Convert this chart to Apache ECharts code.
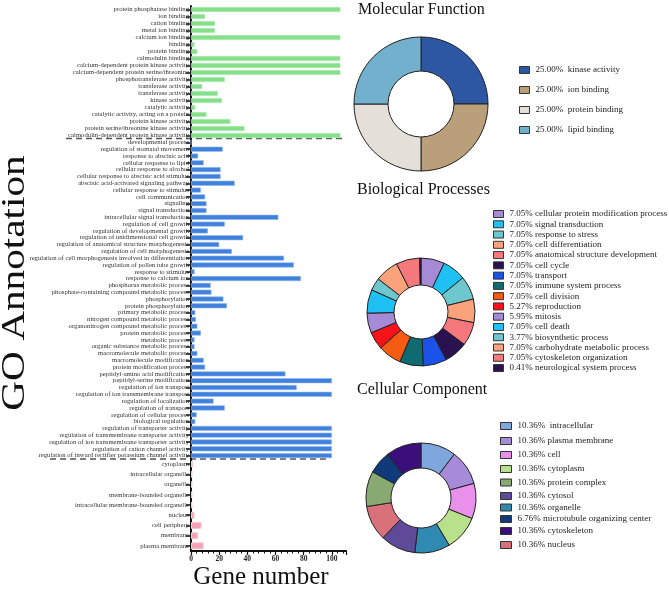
<!DOCTYPE html>
<html><head><meta charset="utf-8">
<script src="https://cdn.jsdelivr.net/npm/echarts@6/dist/echarts.min.js"></script>
<style>html,body{margin:0;padding:0;background:#fff}#c{width:669px;height:589px}</style>
</head><body><div id="c"></div>
<script>
// ---- Bar chart data (top to bottom) ----
const mfCategories = ['protein phosphatase binding','ion binding','cation binding','metal ion binding','calcium ion binding','binding','protein binding','calmodulin binding','calcium-dependent protein kinase activity','calcium-dependent protein serine/threonine','phosphotransferase activity','transferase activity','transferase activity','kinase activity','catalytic activity','catalytic activity, acting on a protein','protein kinase activity','protein serine/threonine kinase activity','calmodulin-dependent protein kinase activity'];
const mfValues = [106,10,17,17,106,2.5,4.5,106,106,106,24,8,19,22,3,11,28,38,106];

const bpCategories = ['developmental process','regulation of stomatal movement','response to abscisic acid','cellular response to lipid','cellular response to alcohol','cellular response to abscisic acid stimulus','abscisic acid-activated signaling pathway','cellular response to stimulus','cell communication','signaling','signal transduction','intracellular signal transduction','regulation of cell growth','regulation of developmental growth','regulation of unidimensional cell growth','regulation of anatomical structure morphogenesis','regulation of cell morphogenesis','regulation of cell morphogenesis involved in differentiation','regulation of pollen tube growth','response to stimulus','response to calcium ion','phosphorus metabolic process','phosphate-containing compound metabolic process','phosphorylation','protein phosphorylation','primary metabolic process','nitrogen compound metabolic process','organonitrogen compound metabolic process','protein metabolic process','metabolic process','organic substance metabolic process','macromolecule metabolic process','macromolecule modification','protein modification process','peptidyl-amino acid modification','peptidyl-serine modification','regulation of ion transport','regulation of ion transmembrane transport','regulation of localization','regulation of transport','regulation of cellular process','biological regulation','regulation of transporter activity','regulation of transmembrane transporter activity','regulation of ion transmembrane transporter activity','regulation of cation channel activity','regulation of inward rectifier potassium channel activity'];
const bpValues = [0,22.5,5,9,21,21,31,7,10,11,11,62,24,12,37,20,29,66,73,2.5,78,14,14.5,23,25.5,3,3.5,4.5,7,2.5,2.5,4.5,9,10,67,100,75,100,16,24,4,3,100,100,100,100,100];

const ccCategories = ['cytoplasm','intracellular organelle','organelle','membrane-bounded organelle','intracellular membrane-bounded organelle','nucleus','cell periphery','membrane','plasma membrane'];
const ccValues = [1.5,1,1,1,1,2.5,7.5,5,9];

const xTicks = [0,20,40,60,80,100];

// ---- Donut data ----
const mfNames = ['kinase activity','ion binding','protein binding','lipid binding'];
const mfPct = [25.00,25.00,25.00,25.00];

const bpNames = ['cellular protein modification process','signal transduction','response to stress','cell differentiation','anatomical structure development','cell cycle','transport','immune system process','cell division','reproduction','mitosis','cell death','biosynthetic process','carbohydrate metabolic process','cytoskeleton organization','neurological system process'];
const bpPct = [7.05,7.05,7.05,7.05,7.05,7.05,7.05,7.05,7.05,5.27,5.95,7.05,3.77,7.05,7.05,0.41];

// ring order (clockwise from top)
const ccNames = ['intracellular','plasma membrane','cell','cytoplasm','organelle','cytosol','nucleus','protein complex','microtubule organizing center','cytoskeleton'];
const ccPct = [10.36,10.36,10.36,10.36,10.36,10.36,10.36,10.36,6.76,10.36];
// legend order
const ccLegendOrder = ['intracellular','plasma membrane','cell','cytoplasm','protein complex','cytosol','organelle','microtubule organizing center','cytoskeleton','nucleus'];

// ---- styles / layout ----
const mfColors = ['#2d56a3','#b9a07a','#e4dfd8','#73b0cd'];
const bpColors = ['#a58ad6','#1fc0f4','#6ec7cd','#f9a27c','#f5797c','#2a1150','#1b52e9','#0f6a72','#f55b12','#f7121c','#a58ad6','#1fc0f4','#6ec7cd','#f9a27c','#f5797c','#2a1150'];
const ccColorMap = {'intracellular':'#7fa7dd','plasma membrane':'#a68bd8','cell':'#e991ea','cytoplasm':'#b9e08b','organelle':'#2f89b1','cytosol':'#5f4999','nucleus':'#d9717a','protein complex':'#89a972','microtubule organizing center':'#0f3b7b','cytoskeleton':'#3b0f7b'};
const ccLegendTops = [421,436,450,464,477.5,491,502.5,514,526,540];

const SERIF = '"Liberation Serif","Times New Roman",serif';

const chart = echarts.init(document.getElementById('c'), null, {renderer:'canvas'});

const grids = [
  {left:191, top:6, width:155, height:133},
  {left:191, top:139, width:155, height:320},
  {left:191, top:459, width:155, height:92}
];
function yAx(gi, cats){
  return {type:'category', gridIndex:gi, data:cats, inverse:true,
    axisLine:{show:true, lineStyle:{color:'#111', width:2}},
    axisTick:{show:true, alignWithLabel:true, length:5, lineStyle:{color:'#111', width:1.5}},
    axisLabel:{interval:0, fontFamily:SERIF, fontSize:6.7, color:'#333', margin:2}};
}
function xAx(gi, show){
  return {type:'value', gridIndex:gi, min:0, max:110, interval:20, show:show,
    splitLine:{show:false},
    axisLine:{show:true, lineStyle:{color:'#111', width:2}},
    axisTick:{show:true, length:4, lineStyle:{color:'#111', width:1.2}},
    minorTick:{show:true, splitNumber:5, length:2.5, lineStyle:{color:'#111', width:1}},
    axisLabel:{showMaxLabel:false, fontFamily:SERIF, fontWeight:'bold', fontSize:7.5, color:'#222', margin:4,
      formatter:v => xTicks.indexOf(v) >= 0 ? String(v) : ''}};
}
function pctFmt(names, pcts, sep){
  return function(name){ const i = names.indexOf(name); return pcts[i].toFixed(2) + '%' + sep + name; };
}
const legendCommon = {orient:'vertical', icon:'rect', selectedMode:false, padding:0,
  itemStyle:{borderColor:'#333', borderWidth:1},
  textStyle:{fontFamily:SERIF, fontSize:9, color:'#222', lineHeight:10, padding:[0,0,0,1]}};

const legends = [
  Object.assign({}, legendCommon, {left:519, top:65, itemWidth:10, itemHeight:7, itemGap:10, data:mfNames, formatter:pctFmt(mfNames, mfPct, '\u00a0\u00a0')}),
  Object.assign({}, legendCommon, {left:493, top:209, itemWidth:10, itemHeight:7, itemGap:0.27, data:bpNames, formatter:pctFmt(bpNames, bpPct, ' ')})
];
ccLegendOrder.forEach(function(n, k){
  legends.push(Object.assign({}, legendCommon, {left:500, top:ccLegendTops[k], itemWidth:11, itemHeight:7, data:[n],
    formatter:function(name){const i=ccNames.indexOf(name); return ccPct[i].toFixed(2)+'%'+(i===0?'\u00a0\u00a0':' ')+name;}}));
});

const option = {
  animation:false,
  backgroundColor:'#fff',
  title:[
    {text:'Molecular Function', left:358, top:2, padding:0, textStyle:{fontFamily:SERIF, fontSize:16, fontWeight:'normal', color:'#111'}},
    {text:'Biological Processes', left:357, top:182, padding:0, textStyle:{fontFamily:SERIF, fontSize:16, fontWeight:'normal', color:'#111'}},
    {text:'Cellular Component', left:357, top:382, padding:0, textStyle:{fontFamily:SERIF, fontSize:16, fontWeight:'normal', color:'#111'}}
  ],
  grid:grids,
  xAxis:[xAx(0,false), xAx(1,false), xAx(2,true)],
  yAxis:[yAx(0,mfCategories), yAx(1,bpCategories), yAx(2,ccCategories)],
  legend:legends,
  series:[
    {type:'bar', xAxisIndex:0, yAxisIndex:0, data:mfValues, barWidth:5, silent:true,
      itemStyle:{color:'#86df8b', borderColor:'#b3edb5', borderWidth:0.6}},
    {type:'bar', xAxisIndex:1, yAxisIndex:1, data:bpValues, barWidth:5, silent:true,
      itemStyle:{color:'#3f81dd', borderColor:'#8fb6ec', borderWidth:0.6}},
    {type:'bar', xAxisIndex:2, yAxisIndex:2, data:ccValues, barWidth:7, silent:true,
      itemStyle:{color:'#f3a3b3', borderColor:'#f8c7d1', borderWidth:1}},
    {type:'pie', center:[421,104], radius:[33,67], startAngle:90, clockwise:true, silent:true,
      label:{show:false}, labelLine:{show:false}, itemStyle:{borderColor:'#222', borderWidth:1},
      data:mfNames.map((n,i)=>({name:n, value:mfPct[i], itemStyle:{color:mfColors[i]}}))},
    {type:'pie', center:[421,312], radius:[27,54], startAngle:90, clockwise:true, silent:true,
      label:{show:false}, labelLine:{show:false}, itemStyle:{borderColor:'#222', borderWidth:1},
      data:bpNames.map((n,i)=>({name:n, value:bpPct[i], itemStyle:{color:bpColors[i]}}))},
    {type:'pie', center:[421,498], radius:[30,55], startAngle:90, clockwise:true, silent:true,
      label:{show:false}, labelLine:{show:false}, itemStyle:{borderColor:'#222', borderWidth:1},
      data:ccNames.map((n,i)=>({name:n, value:ccPct[i], itemStyle:{color:ccColorMap[n]}}))}
  ],
  graphic:[
    {type:'line', shape:{x1:66, y1:138.5, x2:346, y2:138.5}, style:{stroke:'#555', lineWidth:1.5, lineDash:[6,4]}},
    {type:'line', shape:{x1:50, y1:459, x2:330, y2:459}, style:{stroke:'#555', lineWidth:1.5, lineDash:[6,4]}},
    {type:'text', x:15, y:283, rotation:Math.PI/2, scaleX:1.25, scaleY:1,
      style:{text:'GO Annotation', fontFamily:SERIF, fontSize:33, fill:'#111', align:'center', verticalAlign:'middle'}},
    {type:'text', x:261, y:577,
      style:{text:'Gene number', fontFamily:SERIF, fontSize:25, fill:'#111', align:'center', verticalAlign:'middle'}}
  ]
};
chart.setOption(option);
</script>
</body></html>
